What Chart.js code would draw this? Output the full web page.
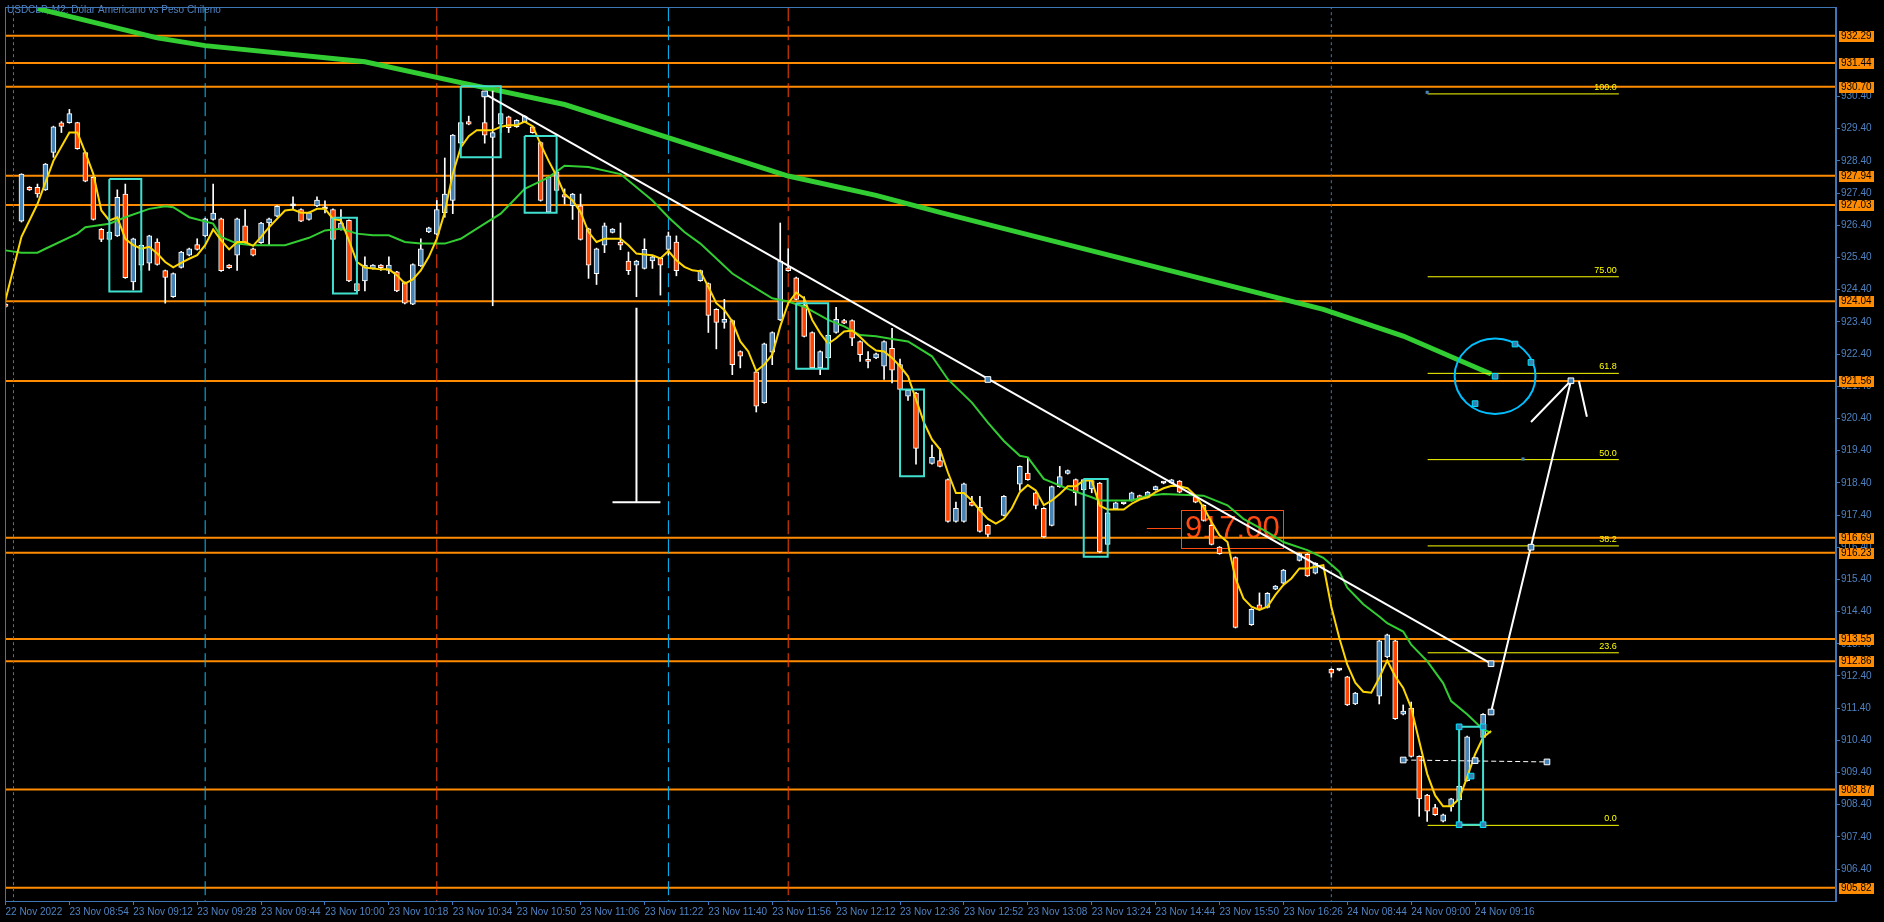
<!DOCTYPE html>
<html>
<head>
<meta charset="utf-8">
<title>USDCLP M2</title>
<script src="https://cdn.jsdelivr.net/npm/chart.js@4.4.1/dist/chart.umd.min.js"></script>
<style>
html,body{margin:0;padding:0;background:#000;overflow:hidden;}
canvas{display:block;background:#000;}
</style>
</head>
<body>
<canvas id="graf" width="1884" height="922"></canvas>
<script>
var titolo="USDCLP, M2: Dólar Americano vs Peso Chileno";

var etichetteX=["22 Nov 2022","23 Nov 08:54","23 Nov 09:12","23 Nov 09:28","23 Nov 09:44","23 Nov 10:00","23 Nov 10:18","23 Nov 10:34","23 Nov 10:50","23 Nov 11:06","23 Nov 11:22","23 Nov 11:40","23 Nov 11:56","23 Nov 12:12","23 Nov 12:36","23 Nov 12:52","23 Nov 13:08","23 Nov 13:24","23 Nov 14:44","23 Nov 15:50","23 Nov 16:26","24 Nov 08:44","24 Nov 09:00","24 Nov 09:16"];
var barreEtichette=[0,8,16,24,32,40,48,56,64,72,80,88,96,104,112,120,128,136,144,152,160,168,176,184];
var tickY=[906.40,907.40,908.40,909.40,910.40,911.40,912.40,913.40,914.40,915.40,916.40,917.40,918.40,919.40,920.40,921.40,922.40,923.40,924.40,925.40,926.40,927.40,928.40,929.40,930.40];

// linee orizzontali arancioni (prezzi sull'asse)
var livelli=[932.29,931.44,930.70,927.94,927.03,924.04,921.56,916.69,916.23,913.55,912.86,908.87,905.82];

// candele M2, indice = barra
var apertura=[
923.95,null,926.53,927.58,927.58,927.50,928.66,929.58,929.59,929.59,
928.66,927.89,926.27,925.96,926.07,927.37,924.64,925.16,925.22,925.88,
924.99,924.18,925.09,925.47,925.80,926.07,926.58,926.60,925.16,925.47,
926.38,925.67,925.86,926.47,926.68,null,927.00,926.89,926.58,927.00,
926.91,926.89,926.27,926.55,924.59,924.67,925.06,925.16,925.00,924.95,
924.62,923.95,925.14,926.19,926.12,926.79,927.17,928.95,929.62,null,
929.59,929.13,929.54,929.77,929.46,929.62,929.46,928.97,926.81,928.06,
927.35,927.01,927.00,926.29,924.90,925.78,926.18,925.88,925.29,925.16,
925.06,925.29,925.37,925.65,925.88,null,null,924.68,924.59,923.79,
923.38,923.44,922.48,null,921.85,920.89,922.46,923.46,925.08,924.77,
923.92,923.07,921.97,922.28,923.07,923.44,923.44,922.79,922.22,922.28,
922.02,922.58,922.07,921.09,921.19,null,919.00,919.09,918.50,917.20,
917.20,917.80,917.64,917.08,null,917.39,null,918.36,918.70,918.09,
917.61,917.08,918.28,918.69,918.50,918.19,918.21,918.39,916.49,917.59,
917.75,917.85,918.00,917.95,918.19,918.39,918.40,918.45,null,917.97,
917.70,917.08,916.40,null,916.08,null,913.99,914.61,914.53,915.10,
915.28,null,915.99,916.18,915.59,null,912.61,912.58,912.37,911.53,
null,null,911.77,912.99,913.49,911.21,911.40,909.90,908.70,908.31,
907.89,908.33,908.55,909.15,null,910.49];
var massimo=[
923.98,null,928.00,927.60,927.68,928.32,929.48,929.62,930.00,929.60,
928.68,927.91,926.30,926.21,927.50,927.68,926.00,925.80,926.09,925.98,
925.01,924.92,925.59,925.69,925.98,926.62,927.68,926.62,925.18,926.62,
926.89,925.69,926.49,926.62,927.01,null,927.28,926.91,926.81,927.28,
927.16,926.91,926.89,926.57,924.61,925.42,925.18,925.18,925.42,924.97,
924.64,925.20,925.98,926.34,927.17,928.49,929.22,929.61,929.79,null,
930.46,930.57,929.89,929.79,929.68,929.81,929.48,928.99,927.91,928.08,
927.53,927.39,927.37,926.31,925.69,926.47,926.30,926.47,925.57,925.31,
925.98,925.44,925.39,926.19,926.07,null,null,925.01,924.61,923.81,
924.10,923.46,922.50,null,921.87,922.74,923.09,926.47,925.67,924.79,
924.18,923.09,922.50,923.00,923.85,923.48,923.46,922.81,922.48,922.43,
922.81,923.20,922.24,921.30,921.21,null,919.57,919.47,918.52,917.80,
918.39,917.98,917.98,917.10,null,918.00,null,918.93,919.19,918.11,
917.63,918.30,918.91,918.80,918.52,918.52,918.49,918.41,917.49,917.80,
917.77,918.11,918.02,918.13,918.30,918.41,918.51,918.47,null,917.99,
917.72,917.10,916.42,null,916.10,null,914.49,914.98,914.99,915.21,
915.71,null,916.22,916.20,915.92,null,912.63,912.60,912.39,911.89,
null,null,913.51,913.70,913.51,911.50,911.59,909.92,908.72,908.41,
908.11,908.60,908.99,910.53,null,911.23];
var minimo=[
923.85,null,926.50,927.48,927.27,927.48,928.51,929.28,929.57,928.76,
927.75,926.56,925.89,925.94,926.05,924.75,924.39,925.00,925.00,925.16,
923.98,924.16,925.07,925.45,925.63,926.05,926.56,924.97,925.06,925.00,
925.84,925.45,925.84,925.78,926.66,null,926.89,926.51,926.56,926.98,
926.78,925.94,926.25,924.65,924.34,924.36,925.04,925.00,924.90,924.34,
923.96,923.93,925.12,926.17,926.10,926.65,926.76,928.93,929.52,null,
928.95,923.90,929.28,929.28,929.44,929.60,929.26,927.15,926.79,927.46,
927.06,926.58,925.94,924.75,924.56,925.55,926.16,925.64,924.87,924.18,
925.04,925.06,924.23,925.47,924.83,null,null,924.66,923.07,922.56,
923.20,921.76,921.97,null,920.60,920.87,922.07,923.44,924.97,924.08,
922.93,921.95,921.76,922.26,923.05,923.34,922.66,922.17,921.97,922.26,
921.61,921.50,921.28,920.96,918.98,null,918.98,918.89,917.18,917.18,
917.18,917.68,916.87,916.72,null,917.37,null,918.16,918.48,917.59,
916.70,917.06,918.26,918.67,917.70,918.17,918.09,916.23,916.47,917.57,
917.73,917.83,917.88,917.93,918.17,918.37,918.38,918.09,null,917.78,
917.21,916.47,916.18,null,913.89,null,913.97,914.45,914.51,915.08,
915.26,null,915.97,915.49,915.57,null,912.36,912.56,911.48,911.51,
null,null,911.53,912.97,911.05,911.19,909.88,908.04,907.88,908.07,
907.87,908.20,908.53,909.13,null,910.47];
var chiusura=[
923.88,null,927.99,927.50,927.37,928.30,929.46,929.47,929.87,928.78,
927.77,926.58,925.96,926.19,927.27,924.77,925.98,925.78,926.07,925.18,
924.78,924.90,925.57,925.67,925.65,926.60,926.78,924.99,925.08,926.60,
925.86,925.47,926.47,926.60,926.99,null,927.00,926.53,926.79,927.18,
926.91,925.96,926.47,924.67,924.36,925.16,925.16,925.08,925.16,924.36,
923.98,925.18,925.67,926.32,926.89,927.37,929.20,929.59,929.54,null,
929.20,929.28,929.87,929.43,929.66,929.79,929.28,927.17,927.89,927.48,
927.27,927.37,925.96,925.16,925.67,926.38,926.28,925.78,924.99,925.29,
925.65,925.42,925.16,926.07,924.99,null,null,924.99,923.60,923.38,
923.48,922.07,922.33,null,920.78,922.72,923.07,925.29,924.99,924.10,
922.95,921.97,922.48,922.98,923.48,923.36,922.89,922.38,922.17,922.41,
922.79,921.90,921.30,921.28,919.47,null,919.19,918.91,917.20,917.61,
918.37,917.70,916.89,916.80,null,917.98,null,918.91,918.50,917.70,
916.72,918.28,918.59,918.78,918.09,918.50,918.47,916.25,917.47,917.78,
917.75,918.09,917.90,918.11,918.28,918.39,918.49,918.11,null,917.80,
917.23,916.49,916.20,null,913.91,null,914.47,914.47,914.97,915.19,
915.69,null,916.20,915.51,915.90,null,912.49,912.58,911.50,911.87,
null,null,913.49,913.68,911.07,911.31,909.90,908.58,908.20,908.09,
908.09,908.58,908.97,910.51,null,911.21];

// media veloce (gialla), una per barra
var mediaGialla=[
924.08,null,926.04,null,927.06,null,928.40,null,929.28,929.28,
928.66,927.99,926.86,926.55,926.65,925.98,925.78,925.67,925.73,925.52,
925.26,925.09,925.23,925.36,925.47,925.78,926.27,925.93,925.65,925.88,
925.88,925.76,926.04,926.34,926.60,926.86,926.89,926.79,926.79,926.91,
926.91,926.60,926.55,925.93,925.26,925.09,925.06,925.03,925.03,924.85,
924.59,924.72,925.00,925.42,925.98,926.81,927.99,928.82,929.17,929.35,
929.35,929.35,929.46,929.51,929.51,929.62,929.48,928.92,928.40,927.93,
927.37,927.17,926.81,926.19,925.88,925.98,925.98,925.98,925.78,925.52,
925.49,925.47,925.37,925.60,925.31,925.11,925.00,924.97,924.49,923.98,
923.77,923.41,922.79,922.48,921.87,922.07,922.38,923.26,923.98,924.31,
924.13,923.46,923.05,922.72,922.89,923.10,923.13,922.93,922.69,922.51,
922.48,922.28,922.02,921.71,920.99,920.27,919.75,919.44,918.72,918.08,
918.08,917.85,917.54,917.28,917.13,917.28,917.61,918.11,918.33,918.16,
917.71,917.85,918.05,918.29,918.29,918.47,918.47,917.69,917.57,917.57,
917.57,917.75,917.88,917.95,918.11,918.23,918.31,918.29,918.23,918.00,
917.64,917.18,916.77,916.56,915.43,914.81,914.55,914.45,914.55,914.92,
915.23,915.43,915.74,915.74,915.79,915.84,914.55,913.58,912.75,912.19,
911.91,911.88,912.34,912.88,912.39,912.03,911.41,910.38,909.36,908.69,
908.35,908.35,908.58,909.25,909.97,910.49,910.69];

// media verde sottile
var verdeBarre=[0,2,4,5,9,10,13,15,18,20,21,23,26,27,29,31,35,38,40,42,44,46,48,50,52,55,57,60,62,64,65,68,70,73,77,79,81,83,85,87,89,91,93,96,98,100,103,105,107,109,111,113,114,116,118,121,123,125,127,128,130,133,136,137,141,143,145,148,150,153,155,158,160,163,165,167,168,170,172,173,175,176,178,180,181,183,185,186];
var verdeValori=[925.62,925.55,925.55,925.67,926.14,926.34,926.45,926.65,926.91,926.99,926.96,926.65,926.45,926.04,925.83,925.78,925.78,926.01,926.24,926.29,926.14,926.09,926.09,925.88,925.83,925.83,925.98,926.45,926.76,927.27,927.53,927.89,928.25,928.21,927.99,927.58,927.17,926.65,926.19,925.83,925.37,924.90,924.59,924.13,924.03,923.87,923.46,923.26,922.99,922.95,922.87,922.79,922.64,922.33,921.61,920.89,920.27,919.70,919.24,919.19,918.52,918.21,917.95,917.85,917.85,918.00,918.05,918.02,918.00,917.70,917.28,916.87,916.56,916.31,916.07,915.64,915.14,914.63,914.25,914.04,913.78,913.37,912.86,912.18,911.62,911.21,910.74,910.64];

// media lenta spessa
var lentaBarre=[4,19,25,45,57,70,98,109,117,127,165,175,186];
var lentaValori=[933.13,932.22,931.98,931.48,930.83,930.15,927.93,927.33,926.80,926.17,923.79,922.96,921.78];

// separatori verticali
var sepBlu=[1,166];
var sepCiano=[25,83];
var sepRosso=[54,98];

// rettangoli turchesi
var boxDa=[13,41,57,65,99,112,135,182];
var boxA=[17,44,62,69,103,115,138,185];
var boxAlto=[927.84,926.63,930.72,929.17,923.98,921.30,918.52,910.82];
var boxBasso=[924.34,924.28,928.51,926.79,921.94,918.60,916.10,907.78];

// fibonacci
var fibPrezzi=[930.48,924.80,921.80,919.12,916.44,913.12,907.76];
var fibTesti=["100.0","75.00","61.8","50.0","38.2","23.6","0.0"];
var fibBarre=[178.06,202.0];

// oggetti disegnati
var trendLinea=[[60,930.48],[186,912.78]];
var freccia=[[186,911.28],[196,921.57]];
var puntaSx=[[196,921.57],[191,920.29]];
var puntaDx=[[197,921.56],[198,920.45]];
var tratteggio=[[175,909.79],[193,909.73]];
var tVerticale=[[79,923.84],[79,917.80]];
var tOrizzontale=[[76,917.80],[82,917.80]];
var cerchio=[186.5,921.71,5.06,1.169];
var prezzoBox=[147.2,160.0,917.57,916.40];
var prezzoLinea=[142.9,147.2,917.00];
var prezzoTesto="917.00";

var manX=[60,123,186,186,191,196,175,184,193,182,185,182,185,183.5,186.5,189,191,184,178,190];
var manY=[930.48,921.61,912.78,911.28,916.40,921.57,909.79,909.77,909.73,910.82,910.82,907.78,907.78,909.29,921.71,922.71,922.14,920.86,930.53,919.14];
var manTipo=[0,0,0,0,0,0,0,0,0,1,1,1,1,1,1,1,1,1,2,2];

var X_MIN=-0.0625, X_MAX=229.1875, Y_MIN=905.41, Y_MAX=933.18;
var BLU="#4682b4", ROSSO="#ff4500", TESTO="#4f82c2", ASSE="#3f76b6";
var grafico;

function segmenti(lista){
    var out=[];
    for(var k=0;k<lista.length;k++){
        if(k>0) out.push({x:lista[k][0][0],y:null});
        for(var j=0;j<lista[k].length;j++)
            out.push({x:lista[k][j][0],y:lista[k][j][1]});
    }
    return out;
}

function linea(dati,colore,spessore,ordine,extra){
    var d={type:"line",data:dati,borderColor:colore,borderWidth:spessore,pointRadius:0,
           tension:0,fill:false,order:ordine};
    if(extra) for(var k in extra) d[k]=extra[k];
    return d;
}

function costruisci(){
    var corpi=[],colori=[],stoppini=[];
    for(var i=0;i<apertura.length;i++){
        if(apertura[i]==null) continue;
        corpi.push({x:i,y:[apertura[i],chiusura[i]]});
        if(chiusura[i]>apertura[i]) colori.push(BLU);
        else if(chiusura[i]<apertura[i]) colori.push(ROSSO);
        else colori.push("#ffffff");
        stoppini.push({x:i,y:[minimo[i],massimo[i]]});
    }
    var gialla=[];
    for(var i=0;i<mediaGialla.length;i++) gialla.push({x:i,y:mediaGialla[i]});
    var verde=verdeBarre.map(function(b,k){return {x:b,y:verdeValori[k]};});
    var lenta=lentaBarre.map(function(b,k){return {x:b,y:lentaValori[k]};});

    var arancio=segmenti(livelli.map(function(v){return [[-2,v],[232,v]];}));
    var vert=function(a){return segmenti(a.map(function(b){return [[b,Y_MIN-1],[b,Y_MAX+1]];}));};
    var scatole=segmenti(boxDa.map(function(d,k){
        return [[d,boxAlto[k]],[boxA[k],boxAlto[k]],[boxA[k],boxBasso[k]],[d,boxBasso[k]],[d,boxAlto[k]]];
    }));
    var fib=segmenti(fibPrezzi.map(function(p){return [[fibBarre[0],p],[fibBarre[1],p]];}));
    var maniglie=manX.map(function(x,k){return {x:x,y:manY[k]};});

    var datasets=[
        linea(arancio,"#ff8c00",2,40,{clip:0}),
        linea(vert(sepBlu),"#3f76b6",1,39,{clip:0,borderDash:[3,3]}),
        linea(vert(sepCiano),"#00bfff",1,39,{clip:0,borderDash:[14,5]}),
        linea(vert(sepRosso),"#ff4500",1,39,{clip:0,borderDash:[14,5]}),
        linea(lenta,"#32cd32",5,30,{}),
        {type:"bar",data:stoppini,backgroundColor:"#ffffff",barThickness:1,grouped:false,order:25,borderWidth:0},
        {type:"bar",data:corpi,backgroundColor:colori,borderColor:"#ffffff",borderWidth:1,borderSkipped:false,
         barThickness:5,grouped:false,minBarLength:2,order:24},
        linea(verde,"#32cd32",2,20,{}),
        linea(gialla,"#ffd700",2,19,{spanGaps:true}),
        linea(scatole,"#40e0d0",2,12,{}),
        linea(fib,"#ffff00",1,12,{}),
        linea(segmenti([trendLinea]),"#ffffff",2,11,{}),
        linea(segmenti([freccia,puntaSx,puntaDx]),"#ffffff",2,11,{}),
        linea(segmenti([tVerticale,tOrizzontale]),"#ffffff",2,11,{}),
        linea(segmenti([tratteggio]),"#ffffff",1,11,{borderDash:[5,3]}),
        {type:"line",data:maniglie,showLine:false,order:1,pointStyle:"rect",
         pointRadius:manTipo.map(function(t){return t==2?2.2:4;}),
         pointBackgroundColor:manTipo.map(function(t){return t==1?"#3a7fb0":BLU;}),
         pointBorderColor:manTipo.map(function(t){return t==0?"#ffffff":(t==1?"#00e5ff":BLU);}),
         pointBorderWidth:manTipo.map(function(t){return t==2?0:1;})}
    ];
    return datasets;
}

var extraDisegno={
    id:"extraDisegno",
    beforeDatasetsDraw:function(chart){
        var c=chart.ctx,xs=chart.scales.x,ys=chart.scales.y;
        c.save();
        c.font="10px 'Liberation Sans'";
        c.fillStyle=TESTO;
        c.textBaseline="middle";
        c.fillText(titolo,7,10);
        // etichetta prezzo 917.00
        var x1=xs.getPixelForValue(prezzoBox[0]),x2=xs.getPixelForValue(prezzoBox[1]);
        var y1=ys.getPixelForValue(prezzoBox[2]),y2=ys.getPixelForValue(prezzoBox[3]);
        c.strokeStyle="#ff4a12";c.lineWidth=1;
        c.strokeRect(Math.round(x1)+0.5,Math.round(y1)+0.5,Math.round(x2-x1),Math.round(y2-y1));
        var yl=Math.round(ys.getPixelForValue(prezzoLinea[2]))+0.5;
        c.beginPath();c.moveTo(xs.getPixelForValue(prezzoLinea[0]),yl);c.lineTo(xs.getPixelForValue(prezzoLinea[1]),yl);c.stroke();
        c.font="31px 'Liberation Sans'";
        c.fillStyle="#ff4a12";c.textAlign="center";
        c.fillText(prezzoTesto,(x1+x2)/2,(y1+y2)/2+1);
        c.restore();
    },
    beforeDatasetDraw:function(chart,args){
        if(args.index!==chart.data.datasets.length-1) return;
        var c=chart.ctx,xs=chart.scales.x,ys=chart.scales.y;
        var cx=xs.getPixelForValue(cerchio[0]),cy=ys.getPixelForValue(cerchio[1]);
        var rx=xs.getPixelForValue(cerchio[0]+cerchio[2])-cx,ry=cy-ys.getPixelForValue(cerchio[1]+cerchio[3]);
        c.save();
        c.strokeStyle="#00bfff";c.lineWidth=2;
        c.beginPath();c.ellipse(cx,cy,rx,ry,0,0,Math.PI*2);c.stroke();
        c.restore();
    },
    afterDatasetsDraw:function(chart){
        var c=chart.ctx,xs=chart.scales.x,ys=chart.scales.y;
        c.save();
        c.font="9px 'Liberation Sans'";
        c.fillStyle="#ffff00";c.textAlign="right";c.textBaseline="bottom";
        var xr=xs.getPixelForValue(fibBarre[1])-2;
        for(var k=0;k<fibPrezzi.length;k++)
            c.fillText(fibTesti[k],xr,ys.getPixelForValue(fibPrezzi[k])-2);
        c.restore();
    },
    afterDraw:function(chart){
        var c=chart.ctx,a=chart.chartArea,ys=chart.scales.y;
        c.save();
        c.strokeStyle=ASSE;c.lineWidth=1;
        c.strokeRect(Math.round(a.left)+0.5,Math.round(a.top)+0.5,Math.round(a.right-a.left)-1,Math.round(a.bottom-a.top));
        c.font="10px 'Liberation Sans'";c.textBaseline="middle";c.textAlign="left";
        for(var k=0;k<livelli.length;k++){
            var y=Math.round(ys.getPixelForValue(livelli[k]));
            c.fillStyle="#ff8c00";
            c.fillRect(a.right+3,y-5,35,11);
            c.fillStyle="#000000";
            c.fillText(livelli[k].toFixed(2),a.right+5,y+0.5);
        }
        c.restore();
    }
};

function inizializza(){
    Chart.defaults.font.family="'Liberation Sans', sans-serif";
    grafico=new Chart("graf",{
        type:"bar",
        data:{datasets:costruisci()},
        options:{
            responsive:false,
            animation:false,
            devicePixelRatio:1,
            events:[],
            layout:{padding:{left:2,top:2,right:0,bottom:0}},
            plugins:{legend:{display:false},tooltip:{enabled:false},title:{display:false}},
            scales:{
                x:{
                    type:"linear",min:X_MIN,max:X_MAX,offset:false,
                    grid:{display:true,drawOnChartArea:false,drawTicks:true,tickLength:4,color:ASSE,offset:false},
                    border:{display:true,color:ASSE},
                    ticks:{color:TESTO,font:{size:10},autoSkip:false,maxRotation:0,minRotation:0,align:"start",padding:1,
                        callback:function(v,i){return etichetteX[i];}},
                    afterBuildTicks:function(s){s.ticks=barreEtichette.map(function(b){return {value:b};});},
                    afterFit:function(s){s.height=21;}
                },
                y:{
                    type:"linear",position:"right",min:Y_MIN,max:Y_MAX,
                    grid:{display:true,drawOnChartArea:false,drawTicks:true,tickLength:4,color:ASSE},
                    border:{display:true,color:ASSE},
                    ticks:{color:TESTO,font:{size:10},padding:1,autoSkip:false,
                        callback:function(v){return Number(v).toFixed(2);}},
                    afterBuildTicks:function(s){s.ticks=tickY.map(function(v){return {value:v};});},
                    afterFit:function(s){s.width=48;}
                }
            }
        },
        plugins:[extraDisegno]
    });
}

inizializza();
</script>
</body>
</html>
